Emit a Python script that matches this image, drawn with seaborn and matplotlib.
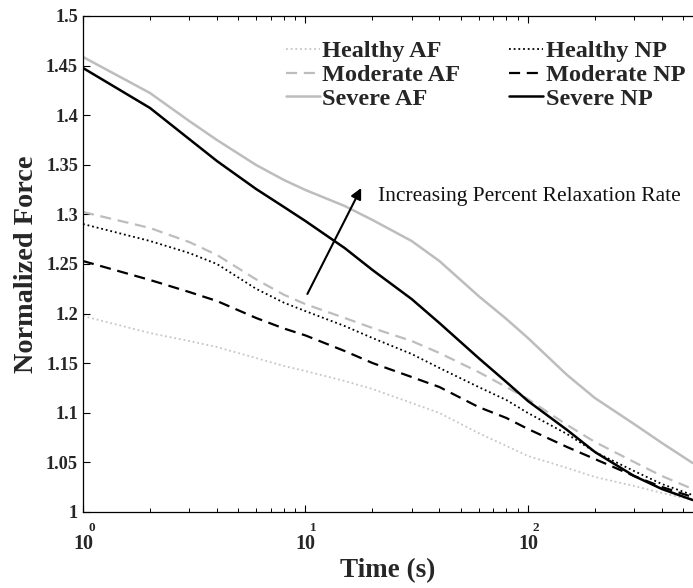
import matplotlib
matplotlib.use("Agg")
import matplotlib.pyplot as plt
import numpy as np
import pandas as pd
import seaborn as sns

# ---------------- data ----------------
time_s = [1, 2, 3, 4, 6, 8, 10, 15, 20, 30, 40, 60, 80, 100, 150, 200, 300, 400, 550]

healthy_af = [1.1976, 1.1804, 1.1724, 1.1663, 1.1552, 1.1472, 1.1421, 1.1321, 1.1240, 1.1099,
              1.0998, 1.0796, 1.0665, 1.0565, 1.0444, 1.0353, 1.0262, 1.0192, 1.0121]
moderate_af = [1.3024, 1.2863, 1.2722, 1.2591, 1.2345, 1.2190, 1.2095, 1.1956, 1.1855, 1.1724,
               1.1603, 1.1411, 1.1260, 1.1139, 1.0877, 1.0706, 1.0504, 1.0363, 1.0232]
severe_af = [1.4587, 1.4224, 1.3942, 1.3750, 1.3498, 1.3347, 1.3246, 1.3085, 1.2944, 1.2732,
             1.2530, 1.2177, 1.1946, 1.1754, 1.1381, 1.1149, 1.0887, 1.0696, 1.0494]
healthy_np = [1.2903, 1.2732, 1.2611, 1.2500, 1.2250, 1.2110, 1.2025, 1.1875, 1.1754, 1.1593,
              1.1452, 1.1260, 1.1129, 1.0998, 1.0786, 1.0605, 1.0413, 1.0282, 1.0171]
moderate_np = [1.2530, 1.2339, 1.2218, 1.2127, 1.1956, 1.1850, 1.1780, 1.1623, 1.1502, 1.1361,
               1.1260, 1.1058, 1.0948, 1.0837, 1.0655, 1.0534, 1.0363, 1.0252, 1.0151]
severe_np = [1.4476, 1.4073, 1.3760, 1.3538, 1.3256, 1.3075, 1.2933, 1.2661, 1.2440, 1.2147,
             1.1905, 1.1552, 1.1310, 1.1119, 1.0827, 1.0605, 1.0363, 1.0232, 1.0121]

series_names = ["Healthy AF", "Moderate AF", "Severe AF",
                "Healthy NP", "Moderate NP", "Severe NP"]
series_values = [healthy_af, moderate_af, severe_af,
                 healthy_np, moderate_np, severe_np]

x_tick_values = [1, 10, 100]
x_tick_labels = ["10", "10", "10"]
x_tick_exponents = ["0", "1", "2"]
y_tick_values = [1.0, 1.05, 1.1, 1.15, 1.2, 1.25, 1.3, 1.35, 1.4, 1.45, 1.5]
y_tick_labels = ["1", "1.05", "1.1", "1.15", "1.2", "1.25", "1.3", "1.35", "1.4", "1.45", "1.5"]

annotation_text = "Increasing Percent Relaxation Rate"

# ---------------- styles ----------------
styles = {
    "Healthy AF":  dict(color="#c6c6c6", linestyle=(0, (1.0, 1.6)), linewidth=1.3),
    "Moderate AF": dict(color="#bdbdbd", linestyle=(0, (5.0, 3.0)), linewidth=1.6),
    "Severe AF":   dict(color="#bdbdbd", linestyle="-", linewidth=1.8),
    "Healthy NP":  dict(color="#000000", linestyle=(0, (1.0, 1.6)), linewidth=1.3),
    "Moderate NP": dict(color="#000000", linestyle=(0, (5.0, 3.0)), linewidth=1.6),
    "Severe NP":   dict(color="#000000", linestyle="-", linewidth=1.8),
}

rows = []
for name, vals in zip(series_names, series_values):
    for t, v in zip(time_s, vals):
        rows.append({"Time": t, "Force": v, "Series": name})
df = pd.DataFrame(rows)

sns.set_style("white")
SERIF = "Liberation Serif"
plt.rcParams["font.family"] = [SERIF, "DejaVu Serif"]

fig = plt.figure(figsize=(6.93, 5.88), dpi=100)
ax = fig.add_axes([83 / 693, 76 / 588, 610 / 693, 496 / 588])

for name in series_names:
    sub = df[df["Series"] == name]
    sns.lineplot(data=sub, x="Time", y="Force", ax=ax, label=name,
                 estimator=None, sort=True, **styles[name])

ax.set_xscale("log")
ax.set_xlim(1, 10 ** 2.742)
ax.set_ylim(1.0, 1.5)

ax.set_xticks(x_tick_values)
ax.set_xticklabels(x_tick_labels, fontsize=14.5, fontweight="bold", family=SERIF)
ax.set_yticks(y_tick_values)
ax.set_yticklabels(y_tick_labels, fontsize=13.2, fontweight="bold", family=SERIF)

ax.tick_params(axis="both", which="both", direction="in", top=True, right=False,
               bottom=True, left=True, color="black")
ax.tick_params(axis="both", which="major", length=5, width=0.8)
ax.tick_params(axis="both", which="minor", length=2.8, width=0.7)
ax.tick_params(axis="x", which="major", pad=16)
ax.tick_params(axis="y", which="major", pad=3.6)
ax.xaxis.set_minor_locator(matplotlib.ticker.LogLocator(base=10, subs=np.arange(2, 10)))
ax.xaxis.set_minor_formatter(matplotlib.ticker.NullFormatter())

# MATLAB-style exponents above the "10" tick labels
for xv, ex in zip(x_tick_values, x_tick_exponents):
    ax.annotate(ex, xy=(xv, 0), xycoords=("data", "axes fraction"),
                xytext=(6.0, -11.5), textcoords="offset points",
                ha="center", va="center", fontsize=9.5, fontweight="bold",
                family=SERIF, annotation_clip=False)

for side in ["left", "bottom", "top"]:
    ax.spines[side].set_visible(True)
    ax.spines[side].set_color("black")
    ax.spines[side].set_linewidth(0.9)
ax.spines["right"].set_visible(False)

ax.set_xlabel("Time (s)", fontsize=19.5, fontweight="bold", family=SERIF)
ax.set_ylabel("Normalized Force", fontsize=20.3, fontweight="bold", family=SERIF)
ax.xaxis.set_label_coords(0.5, -0.092)
ax.yaxis.set_label_coords(-0.072, 0.5)

# arrow + annotation
ax.annotate("", xy=(17.8, 1.3266), xytext=(10.2, 1.2198),
            arrowprops=dict(arrowstyle="-|>", color="black", lw=1.5,
                            mutation_scale=16, shrinkA=0, shrinkB=0))
ax.text(21.2, 1.3185, annotation_text, fontsize=15.5, family=SERIF,
        ha="left", va="center", color="#111111")

handles, labels = ax.get_legend_handles_labels()
order = [labels.index(n) for n in series_names]
leg = ax.legend([handles[i] for i in order], [labels[i] for i in order],
                ncol=2, loc="upper left", bbox_to_anchor=(0.332, 0.951),
                frameon=False, borderaxespad=0, borderpad=0,
                handlelength=1.4, handletextpad=0.12, columnspacing=2.0,
                labelspacing=0.07,
                prop=dict(family=SERIF, weight="bold", size=17.5))

fig.savefig("out.png", dpi=100)
